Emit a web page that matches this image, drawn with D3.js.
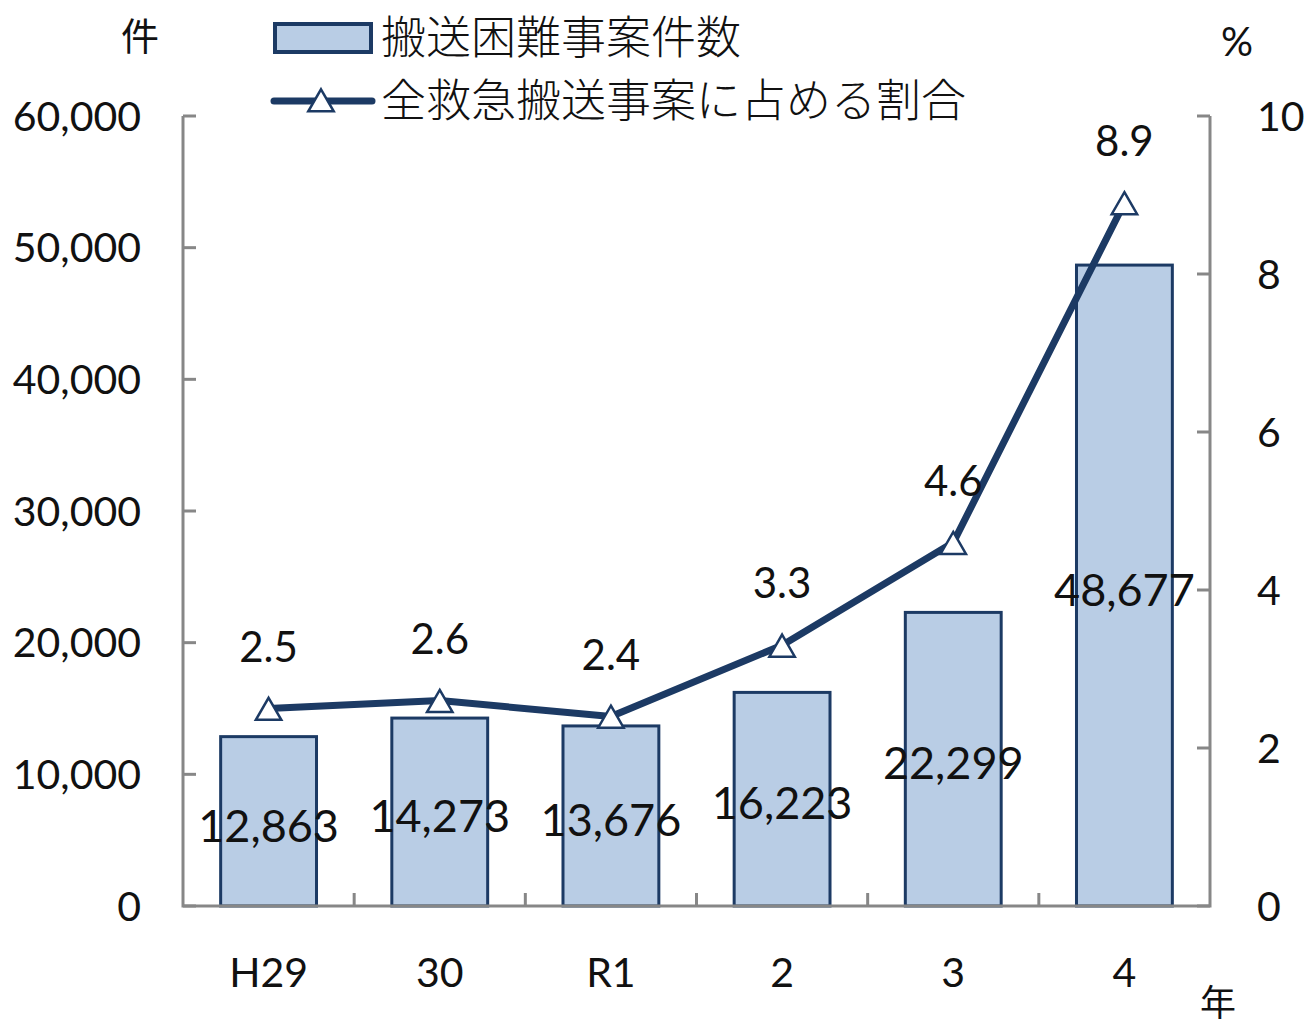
<!DOCTYPE html>
<html><head><meta charset="utf-8">
<script src="https://cdn.jsdelivr.net/npm/d3@7"></script>
<style>body{margin:0;background:#fff}svg{display:block}text{font-family:Lato,"Open Sans",sans-serif;fill:#111}</style>
</head><body><svg id="c" width="1314" height="1029"></svg>
<script>
const categories = ["H29","30","R1","2","3","4"];
const counts = [12863,14273,13676,16223,22299,48677];
const ratios = [2.5,2.6,2.4,3.3,4.6,8.9];
const leftTicks = [0,10000,20000,30000,40000,50000,60000];
const rightTicks = [0,2,4,6,8,10];
const legendLabels = ["搬送困難事案件数","全救急搬送事案に占める割合"];

const svg = d3.select("#c");
const L = 183, R = 1210, T = 116, B = 906;
const x = d3.scaleBand().domain(categories).range([L,R]).paddingInner(0.44).paddingOuter(0.22);
const xb = d3.scaleBand().domain(categories).range([L,R]);
const yL = d3.scaleLinear().domain([0,60000]).range([B,T]);
const yR = d3.scaleLinear().domain([0,10]).range([B,T]);
const axisColor = "#878787", navy = "#1c3a64", fill = "#b9cde5";
const fmt = d3.format(",");
const jp = '"Noto Sans CJK JP",sans-serif';

// bars
svg.append("g").selectAll("rect").data(counts).join("rect")
  .attr("x",(d,i)=>x(categories[i])).attr("width",x.bandwidth())
  .attr("y",d=>yL(d)).attr("height",d=>B-yL(d))
  .attr("fill",fill).attr("stroke",navy).attr("stroke-width",3);

// axes
const ga = svg.append("g").attr("stroke",axisColor).attr("stroke-width",3).attr("fill","none");
ga.append("path").attr("d",`M${L},${T}V${B}H${R}V${T}`);
leftTicks.forEach(t=>ga.append("line").attr("x1",L).attr("x2",L+13).attr("y1",yL(t)).attr("y2",yL(t)));
rightTicks.forEach(t=>ga.append("line").attr("x1",R).attr("x2",R-13).attr("y1",yR(t)).attr("y2",yR(t)));
categories.slice(1).forEach(c=>ga.append("line").attr("x1",xb(c)).attr("x2",xb(c)).attr("y1",B).attr("y2",B-13));

// tick labels
svg.append("g").selectAll("text").data(leftTicks).join("text")
  .attr("x",141).attr("y",d=>yL(d)).attr("dy","0.36em").attr("text-anchor","end")
  .attr("font-size",41).text(d=>fmt(d));
svg.append("g").selectAll("text").data(rightTicks).join("text")
  .attr("x",1257).attr("y",d=>yR(d)).attr("dy","0.36em").attr("text-anchor","start")
  .attr("font-size",41).text(d=>d);
svg.append("g").selectAll("text").data(categories).join("text")
  .attr("x",d=>xb(d)+xb.bandwidth()/2).attr("y",972).attr("dy","0.36em").attr("text-anchor","middle")
  .attr("font-size",41).text(d=>d);

// bar value labels
svg.append("g").selectAll("text").data(counts).join("text")
  .attr("x",(d,i)=>xb(categories[i])+xb.bandwidth()/2).attr("y",d=>(yL(d)+B)/2+4).attr("dy","0.36em")
  .attr("text-anchor","middle").attr("font-size",45).text(d=>fmt(d));

// line
const cx = (i)=>xb(categories[i])+xb.bandwidth()/2;
svg.append("path").datum(ratios)
  .attr("d",d3.line().x((d,i)=>cx(i)).y(d=>yR(d)))
  .attr("fill","none").attr("stroke",navy).attr("stroke-width",7).attr("stroke-linejoin","round");
const tri = d3.symbol().type(d3.symbolTriangle).size(280);
svg.append("g").selectAll("path").data(ratios).join("path")
  .attr("transform",(d,i)=>`translate(${cx(i)},${yR(d)+4})`).attr("d",tri)
  .attr("fill","#fff").attr("stroke",navy).attr("stroke-width",2.5);
svg.append("g").selectAll("text").data(ratios).join("text")
  .attr("x",(d,i)=>cx(i)).attr("y",d=>yR(d)-62).attr("dy","0.36em")
  .attr("text-anchor","middle").attr("font-size",42).text(d=>d.toFixed(1));

// unit labels
svg.append("text").attr("x",140).attr("y",36).attr("dy","0.36em").attr("text-anchor","middle")
  .style("font-family",jp).attr("font-size",38).text("件");
svg.append("text").attr("x",1237).attr("y",42).attr("dy","0.36em").attr("text-anchor","middle")
  .attr("font-size",40).text("%");
svg.append("text").attr("x",1218).attr("y",1003).attr("dy","0.36em").attr("text-anchor","middle")
  .style("font-family",jp).attr("font-size",36).text("年");

// legend
svg.append("rect").attr("x",275).attr("y",24).attr("width",96).attr("height",28)
  .attr("fill",fill).attr("stroke",navy).attr("stroke-width",4);
svg.append("line").attr("x1",274).attr("x2",372).attr("y1",101).attr("y2",101)
  .attr("stroke",navy).attr("stroke-width",7).attr("stroke-linecap","round");
svg.append("path").attr("transform","translate(321,104)").attr("d",tri)
  .attr("fill","#fff").attr("stroke",navy).attr("stroke-width",2.5);
svg.append("g").selectAll("text").data(legendLabels).join("text")
  .attr("x",381).attr("y",(d,i)=>38+i*63).attr("dy","0.36em")
  .style("font-family",jp).attr("font-size",45).attr("font-weight",300).text(d=>d);
</script></body></html>
